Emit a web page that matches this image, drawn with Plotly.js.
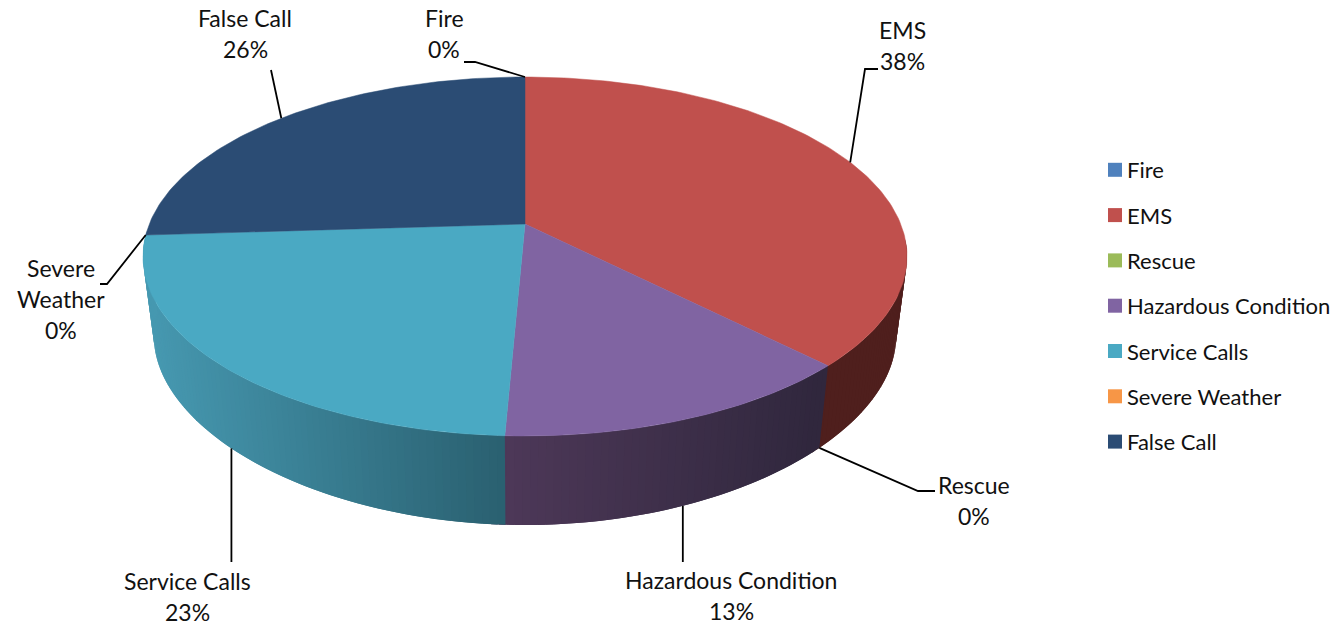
<!DOCTYPE html>
<html><head><meta charset="utf-8">
<script src="https://cdn.plot.ly/plotly-3.0.1.min.js"></script>
<style>html,body{margin:0;padding:0;background:#fff}#chart{width:1339px;height:627px}</style>
</head><body><div id="chart"></div>
<script>
// ---- data ----
const categories = ["Fire","EMS","Rescue","Hazardous Condition","Service Calls","Severe Weather","False Call"];
const shares = [0, 37.6, 0, 13.1, 23.3, 0, 26.0];
const topColors = ["#4f81bd","#c0504d","#9bbb59","#8064a2","#4aa9c3","#f79646","#2b4c74"];

// ---- projection of the tilted disc (pixel space) ----
const CX = 525;
const topFace = {R:375.7, kx:0.181, S:173.6, ky:0.181, cy:224};
const botFace = {R:365, kx:0.181, S:165, ky:0.25, cy:305};
function proj(f, deg){
  const t = deg*Math.PI/180, s = Math.sin(t), c = Math.cos(t);
  return [CX + f.R*s/(1+f.kx*c), f.cy - f.S*c/(1+f.ky*c)];
}
// side-wall shading [color at left x, color at right x]
const sideShade = {
  "EMS": {l:[79,31,29], r:[79,31,29], x0:800, x1:900},
  "Hazardous Condition": {l:[77,56,88], r:[48,39,61], x0:505, x1:820},
  "Service Calls": {l:[70,152,176], r:[42,96,112], x0:150, x1:505}
};
const rgb = a => `rgb(${a.map(Math.round).join(",")})`;
function shade(s, x){
  const u = Math.max(0, Math.min(1, (x-s.x0)/(s.x1-s.x0)));
  return rgb(s.l.map((v,i)=>v+(s.r[i]-v)*u));
}
const starts = [], ends = [];
{ let a = 0; shares.forEach((v,i)=>{ starts[i]=a; a += v*3.6; ends[i]=a; }); }

const traces = [];
const blank = {mode:"lines", hoverinfo:"skip", showlegend:false, xaxis:"x", yaxis:"y"};
// side wall strips (front half only); each strip runs past its end and is covered by the next one
const VIS0 = 95, VIS1 = 268, STEP = 1, OVER = 1;
categories.forEach((name,i)=>{
  const s = sideShade[name]; if(!s || shares[i]===0) return;
  const a0 = Math.max(starts[i],VIS0), a1 = Math.min(ends[i],VIS1);
  for(let a=a0; a<a1-1e-6; a+=STEP){
    const b = Math.min(a+STEP+OVER,VIS1);
    const m = Math.min(a+STEP,a1);
    const p = [proj(topFace,a),proj(topFace,b),proj(botFace,b),proj(botFace,a),proj(topFace,a)];
    const q0 = proj(topFace,a), q1 = proj(topFace,m);
    const col = shade(s,(q0[0]+q1[0])/2);
    traces.push({...blank, x:p.map(q=>q[0]), y:p.map(q=>q[1]), fill:"toself", fillcolor:col, line:{color:col,width:0}});
  }
});
// top face wedges
categories.forEach((name,i)=>{
  if(shares[i]===0) return;
  const xs=[CX], ys=[topFace.cy];
  for(let a=starts[i]; ; a+=1){
    const d=Math.min(a,ends[i]); const q=proj(topFace,d); xs.push(q[0]); ys.push(q[1]);
    if(a>=ends[i]) break;
  }
  xs.push(CX); ys.push(topFace.cy);
  traces.push({...blank, x:xs, y:ys, fill:"toself", fillcolor:topColors[i], line:{color:topColors[i],width:0.5}});
});
// leader lines: anchor from the data, then elbow points (null x = straight down from the anchor)
const leaderFace = {"Fire":topFace,"EMS":topFace,"Rescue":botFace,"Hazardous Condition":botFace,"Service Calls":botFace,"Severe Weather":topFace,"False Call":topFace};
const leaderPath = {
  "Fire":[[475,62],[464,62]],
  "EMS":[[865,69],[878,69]],
  "Rescue":[[918,491],[935,491]],
  "Hazardous Condition":[[null,562]],
  "Service Calls":[[null,562]],
  "Severe Weather":[[107,284],[100,284]],
  "False Call":[[271,70]]
};
categories.forEach((name,i)=>{
  const a = proj(leaderFace[name],(starts[i]+ends[i])/2);
  const pts = [a, ...leaderPath[name].map(q=>[q[0]===null?a[0]:q[0],q[1]])];
  traces.push({...blank, x:pts.map(q=>q[0]), y:pts.map(q=>q[1]), line:{color:"#000",width:1.8}});
});
// legend entries
categories.forEach((name,i)=>{
  traces.push({type:"scatter", mode:"markers", name, x:[null], y:[null], legendgroup:name,
    marker:{symbol:"square", size:14, color:topColors[i]}, hoverinfo:"skip"});
});
// data labels
const labelLines = {"Severe Weather":["Severe","Weather"]};
const labelPos = {
  "Fire":[444,18],"EMS":[902,30],"Rescue":[974,485],"Hazardous Condition":[731,580],
  "Service Calls":[187,581],"Severe Weather":[61,268],"False Call":[245,18]
};
const LINE = 31, labelFont = {family:"Lato, Carlito, sans-serif", size:23, color:"#111"};
const annotations = [];
categories.forEach((name,i)=>{
  const lines = [...(labelLines[name]||[name]), Math.round(shares[i])+"%"];
  lines.forEach((t,j)=>annotations.push({xref:"x",yref:"y",x:labelPos[name][0],y:labelPos[name][1]+j*LINE,
    text:t,showarrow:false,xanchor:"center",yanchor:"middle",font:labelFont,borderpad:0}));
});
const layout = {
  width:1339,height:627,margin:{l:0,r:0,t:0,b:0,pad:0},
  paper_bgcolor:"#fff",plot_bgcolor:"#fff",
  xaxis:{range:[0,1339],visible:false,fixedrange:true},
  yaxis:{range:[627,0],visible:false,fixedrange:true},
  hovermode:false,
  legend:{x:1087/1339,xanchor:"left",y:1-149/627,yanchor:"top",tracegroupgap:13.7,itemclick:false,itemdoubleclick:false,
    font:{family:"Lato, Carlito, sans-serif",size:22,color:"#111"},bgcolor:"rgba(0,0,0,0)"},
  annotations,showlegend:true
};
Plotly.newPlot("chart",traces,layout,{displayModeBar:false,responsive:false}).then(()=>{
  // tighten swatch-to-text gap as in the reference
  document.querySelectorAll("#chart .legend .legendsymbols").forEach(n=>n.setAttribute("transform","translate(8,0)"));
});
</script></body></html>
